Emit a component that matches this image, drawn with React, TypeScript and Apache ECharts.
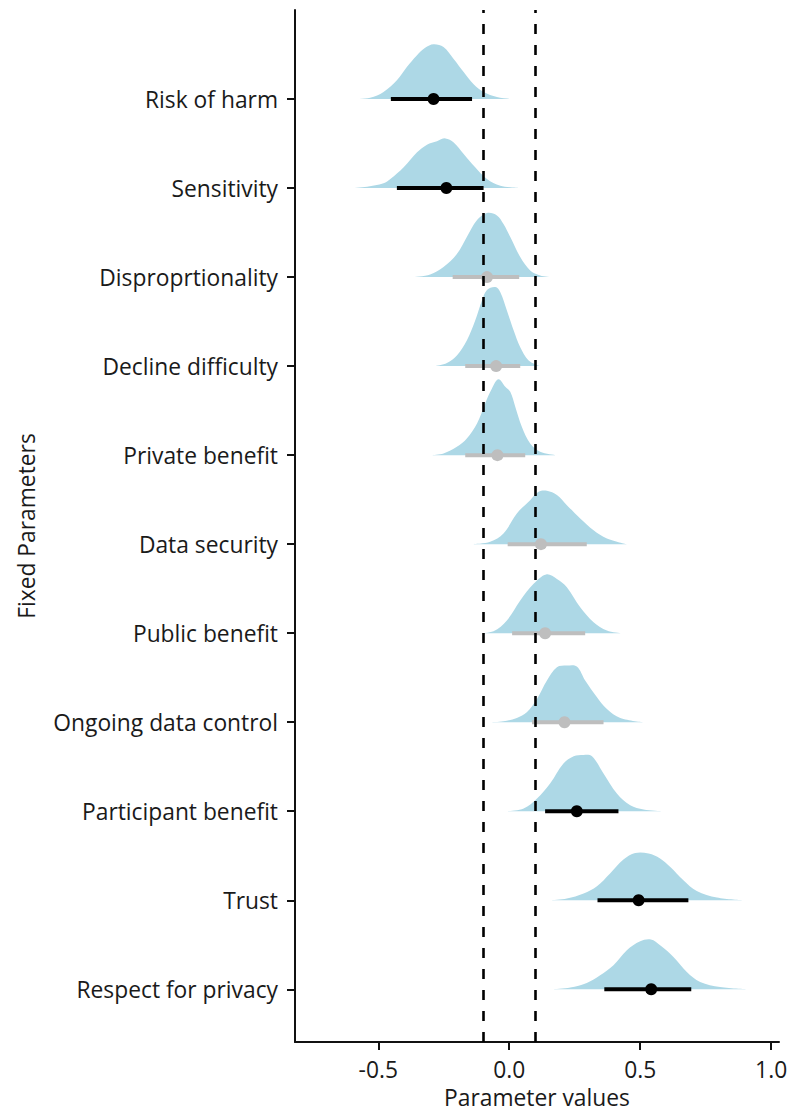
import { useEffect, useRef } from "react";
import * as echarts from "echarts";

const categories = [
  "Risk of harm",
  "Sensitivity",
  "Disproprtionality",
  "Decline difficulty",
  "Private benefit",
  "Data security",
  "Public benefit",
  "Ongoing data control",
  "Participant benefit",
  "Trust",
  "Respect for privacy",
];

// point estimates (median) and 95% intervals
const medians = [-0.289, -0.24, -0.085, -0.05, -0.045, 0.121, 0.137, 0.211, 0.258, 0.494, 0.542];
const lowers = [-0.452, -0.429, -0.216, -0.168, -0.168, -0.006, 0.011, 0.087, 0.137, 0.337, 0.363];
const uppers = [-0.142, -0.098, 0.038, 0.042, 0.061, 0.296, 0.29, 0.36, 0.417, 0.684, 0.695];
const significant = [true, true, false, false, false, false, false, false, true, true, true];

// posterior densities: [parameter value, scaled density height]
const densRiskOfHarm = [
  [-0.6, 0], [-0.531, 0.015], [-0.48, 0.079], [-0.429, 0.21], [-0.391, 0.36], [-0.353, 0.49],
  [-0.321, 0.576], [-0.289, 0.615], [-0.251, 0.584], [-0.213, 0.453], [-0.174, 0.303],
  [-0.136, 0.165], [-0.098, 0.079], [-0.047, 0.022], [0.01, 0],
];
const densSensitivity = [
  [-0.604, 0], [-0.543, 0.015], [-0.48, 0.053], [-0.454, 0.101], [-0.403, 0.233], [-0.352, 0.401],
  [-0.314, 0.487], [-0.276, 0.525], [-0.244, 0.558], [-0.212, 0.513], [-0.174, 0.382],
  [-0.13, 0.233], [-0.085, 0.101], [-0.034, 0.026], [0.039, 0],
];
const densDisproportionality = [
  [-0.368, 0], [-0.302, 0.03], [-0.251, 0.112], [-0.2, 0.258], [-0.162, 0.449], [-0.123, 0.64],
  [-0.085, 0.719], [-0.047, 0.693], [-0.022, 0.596], [0.004, 0.449], [0.042, 0.225],
  [0.08, 0.075], [0.118, 0.019], [0.163, 0],
];
const densDeclineDifficulty = [
  [-0.282, 0], [-0.238, 0.034], [-0.2, 0.12], [-0.162, 0.289], [-0.13, 0.513], [-0.104, 0.738],
  [-0.085, 0.854], [-0.053, 0.888], [-0.034, 0.831], [-0.009, 0.626], [0.017, 0.401],
  [0.042, 0.213], [0.074, 0.064], [0.118, 0],
];
const densPrivateBenefit = [
  [-0.295, 0], [-0.251, 0.019], [-0.2, 0.093], [-0.162, 0.188], [-0.123, 0.356], [-0.092, 0.581],
  [-0.066, 0.749], [-0.041, 0.851], [-0.015, 0.767], [0.004, 0.711], [0.023, 0.543],
  [0.048, 0.318], [0.08, 0.131], [0.118, 0.037], [0.176, 0],
];
const densDataSecurity = [
  [-0.136, 0], [-0.073, 0.026], [-0.022, 0.12], [0.029, 0.345], [0.08, 0.494], [0.112, 0.588],
  [0.144, 0.599], [0.182, 0.551], [0.22, 0.438], [0.271, 0.289], [0.322, 0.157],
  [0.373, 0.064], [0.449, 0],
];
const densPublicBenefit = [
  [-0.117, 0], [-0.06, 0.022], [-0.009, 0.143], [0.042, 0.367], [0.093, 0.554], [0.141, 0.66],
  [0.182, 0.61], [0.22, 0.517], [0.271, 0.292], [0.322, 0.124], [0.373, 0.03], [0.427, 0],
];
const densOngoingDataControl = [
  [-0.0725, 0], [-0.022, 0.011], [0.029, 0.048], [0.067, 0.112], [0.106, 0.262], [0.144, 0.469],
  [0.182, 0.618], [0.22, 0.637], [0.258, 0.626], [0.29, 0.469], [0.335, 0.281],
  [0.373, 0.149], [0.424, 0.048], [0.513, 0],
];
const densParticipantBenefit = [
  [-0.006, 0], [0.055, 0.03], [0.106, 0.143], [0.156, 0.311], [0.207, 0.536], [0.246, 0.618],
  [0.284, 0.633], [0.316, 0.618], [0.36, 0.424], [0.411, 0.199], [0.462, 0.067],
  [0.513, 0.019], [0.583, 0],
];
const densTrust = [
  [0.16, 0], [0.22, 0.019], [0.284, 0.075], [0.335, 0.157], [0.385, 0.3], [0.436, 0.457],
  [0.481, 0.531], [0.532, 0.525], [0.576, 0.469], [0.615, 0.374], [0.665, 0.225],
  [0.716, 0.104], [0.793, 0.03], [0.892, 0],
];
const densRespectForPrivacy = [
  [0.167, 0], [0.233, 0.019], [0.296, 0.071], [0.347, 0.157], [0.398, 0.27], [0.449, 0.438],
  [0.5, 0.539], [0.541, 0.558], [0.576, 0.494], [0.627, 0.363], [0.678, 0.194],
  [0.729, 0.082], [0.805, 0.026], [0.917, 0],
];

const densities = [
  densRiskOfHarm,
  densSensitivity,
  densDisproportionality,
  densDeclineDifficulty,
  densPrivateBenefit,
  densDataSecurity,
  densPublicBenefit,
  densOngoingDataControl,
  densParticipantBenefit,
  densTrust,
  densRespectForPrivacy,
];

const xTicks = [-0.5, 0, 0.5, 1.0];
const ropeBounds = [-0.1, 0.1];

const FONT = "Open Sans";
const FS = 22.8;
const TXT = "#1a1a1a";
const N = categories.length;
const rowOf = (i: number) => N - 1 - i;

export default function App() {
  const ref = useRef<HTMLDivElement>(null);

  useEffect(() => {
    if (!ref.current) return;
    const chart = echarts.init(ref.current, null, { renderer: "svg" });

    const rowValues = categories.map((_, i) => rowOf(i));

    const option: any = {
      animation: false,
      backgroundColor: "#ffffff",
      grid: {
        left: 295,
        right: 9,
        top: 10,
        bottom: 70,
        containLabel: false,
        outerBoundsMode: "none",
      },
      xAxis: {
        type: "value",
        min: -0.818,
        max: 1.03,
        name: "Parameter values",
        nameLocation: "middle",
        nameGap: 42,
        nameTextStyle: { fontFamily: FONT, fontSize: FS, color: TXT, lineHeight: 24 },
        splitLine: { show: false },
        axisLine: { show: true, onZero: false, lineStyle: { color: "#111", width: 2 } },
        axisTick: { show: true, length: 8, customValues: xTicks, lineStyle: { color: "#111", width: 2 } },
        axisLabel: {
          customValues: xTicks,
          formatter: (v: number) => v.toFixed(1),
          fontFamily: FONT,
          fontSize: FS,
          color: TXT,
          margin: 16,
        },
      },
      yAxis: {
        type: "value",
        min: -0.592,
        max: 11.0,
        name: "Fixed Parameters",
        nameLocation: "middle",
        nameGap: 257,
        nameRotate: 90,
        nameTextStyle: { fontFamily: FONT, fontSize: FS, color: TXT },
        splitLine: { show: false },
        axisLine: { show: true, onZero: false, lineStyle: { color: "#111", width: 2 } },
        axisTick: { show: true, length: 8, customValues: rowValues, lineStyle: { color: "#111", width: 2 } },
        axisLabel: {
          customValues: rowValues,
          formatter: (v: number) => categories[N - 1 - Math.round(v)] ?? "",
          fontFamily: FONT,
          fontSize: FS,
          color: TXT,
          margin: 17,
        },
      },
      series: [
        {
          type: "custom",
          name: "density",
          z: 2,
          data: categories.map((_, i) => [medians[i], rowOf(i)]),
          renderItem: (params: any, api: any) => {
            const i = params.dataIndex;
            const row = rowOf(i);
            const pts = densities[i].map(([x, h]) => api.coord([x, row + h]));
            return {
              type: "polyline",
              shape: { points: pts, smooth: 0.35 },
              style: { fill: "#ADD8E6", stroke: "none" },
            };
          },
        },
        {
          type: "custom",
          name: "interval",
          z: 3,
          data: categories.map((_, i) => [medians[i], rowOf(i)]),
          renderItem: (params: any, api: any) => {
            const i = params.dataIndex;
            const row = rowOf(i);
            const color = significant[i] ? "#000000" : "#BEBEBE";
            const a = api.coord([lowers[i], row]);
            const b = api.coord([uppers[i], row]);
            const c = api.coord([medians[i], row]);
            return {
              type: "group",
              children: [
                {
                  type: "line",
                  shape: { x1: a[0], y1: a[1], x2: b[0], y2: b[1] },
                  style: { stroke: color, lineWidth: 4 },
                },
                {
                  type: "circle",
                  shape: { cx: c[0], cy: c[1], r: 6 },
                  style: { fill: color },
                },
              ],
            };
          },
        },
        {
          type: "line",
          name: "rope",
          z: 5,
          data: [],
          markLine: {
            silent: true,
            symbol: "none",
            label: { show: false },
            lineStyle: { color: "#000", type: [10, 11], width: 2.6 },
            data: ropeBounds.map((v) => ({ xAxis: v })),
          },
        },
      ],
    };

    chart.setOption(option);
    return () => chart.dispose();
  }, []);

  return (
    <div
      ref={ref}
      style={{ position: "absolute", left: 0, top: 0, width: 788, height: 1112 }}
    />
  );
}
